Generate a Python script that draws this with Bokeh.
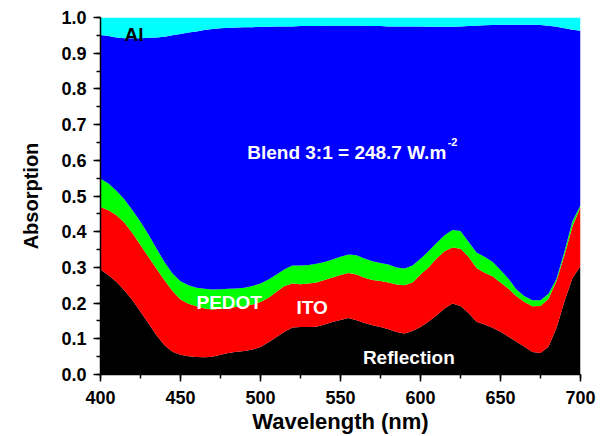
from bokeh.plotting import figure
from bokeh.models import Range1d, Label, SingleIntervalTicker, NumeralTickFormatter
from bokeh.embed import file_html
from bokeh.resources import INLINE

wavelength = [400, 405, 410, 415, 420, 425, 430, 435, 440, 445,
              450, 455, 460, 465, 470, 475, 480, 485, 490, 495,
              500, 505, 510, 515, 520, 525, 530, 535, 540, 545,
              550, 555, 560, 565, 570, 575, 580, 585, 590, 595,
              600, 605, 610, 615, 620, 625, 630, 635, 640, 645,
              650, 655, 660, 665, 670, 675, 680, 685, 690, 695, 700]

# cumulative top of each stacked layer
reflection = [.294, .278, .259, .235, .208, .176, .143, .110, .082, .064,
              .055, .051, .049, .048, .050, .055, .060, .064, .066, .070,
              .077, .090, .105, .120, .132, .133, .133, .134, .140, .147,
              .153, .158, .152, .144, .138, .133, .127, .119, .115, .122,
              .133, .148, .165, .185, .199, .192, .172, .148, .140, .131,
              .120, .106, .092, .078, .063, .060, .078, .130, .205, .270, .303]

ito_top = [.469, .460, .446, .425, .396, .363, .329, .296, .264, .234,
           .210, .198, .191, .185, .182, .184, .187, .189, .191, .196,
           .203, .215, .232, .248, .255, .253, .255, .258, .265, .272,
           .279, .284, .280, .271, .265, .262, .258, .252, .250, .258,
           .280, .300, .325, .345, .356, .352, .330, .298, .285, .275,
           .258, .240, .219, .203, .191, .192, .212, .262, .335, .415, .469]

pedot_top = [.548, .535, .515, .490, .460, .428, .392, .353, .315, .283,
             .261, .250, .243, .240, .238, .239, .240, .241, .243, .248,
             .255, .266, .280, .295, .305, .305, .307, .310, .315, .322,
             .330, .336, .334, .325, .317, .312, .308, .300, .297, .305,
             .324, .345, .368, .390, .405, .402, .372, .342, .330, .316,
             .293, .268, .238, .219, .208, .208, .226, .268, .345, .430, .474]

blend_top = [.951, .948, .944, .942, .942, .942, .943, .944, .946, .950,
             .954, .958, .961, .965, .968, .970, .971, .972, .973, .973,
             .974, .974, .975, .975, .975, .976, .976, .976, .977, .977,
             .977, .977, .977, .977, .976, .976, .975, .975, .975, .975,
             .975, .974, .974, .974, .974, .975, .976, .977, .978, .979,
             .980, .980, .980, .980, .980, .979, .977, .974, .970, .966, .963]

total_top = [1.0] * len(wavelength)
baseline = [0.0] * len(wavelength)

layer_colors = ["#000000", "#FF0000", "#00FF00", "#0000FF", "#00FFFF"]
x_ticks_interval = 50
y_ticks_interval = 0.1

FONT = "Liberation Sans"

p = figure(width=605, height=436, output_backend="svg", toolbar_location=None,
           x_range=Range1d(400, 700), y_range=Range1d(0, 1.0),
           min_border_left=100, min_border_right=25, min_border_top=17,
           min_border_bottom=62)

bounds = [baseline, reflection, ito_top, pedot_top, blend_top, total_top]
for i, col in enumerate(layer_colors):
    p.varea(x=wavelength, y1=bounds[i], y2=bounds[i + 1], fill_color=col)

p.xgrid.visible = False
p.ygrid.visible = False
p.outline_line_color = None
p.background_fill_color = "white"
p.border_fill_color = "white"

p.xaxis.ticker = SingleIntervalTicker(interval=x_ticks_interval, num_minor_ticks=2)
p.yaxis.ticker = SingleIntervalTicker(interval=y_ticks_interval, num_minor_ticks=2)
p.yaxis.formatter = NumeralTickFormatter(format="0.0")
p.xaxis.formatter = NumeralTickFormatter(format="0")

for ax in (p.xaxis[0], p.yaxis[0]):
    ax.axis_line_width = 1.5
    ax.axis_line_color = "black"
    ax.major_tick_line_color = "black"
    ax.major_tick_line_width = 1.5
    ax.minor_tick_line_color = "black"
    ax.minor_tick_line_width = 1.5
    ax.major_tick_out = 7
    ax.major_tick_in = 0
    ax.minor_tick_out = 4
    ax.minor_tick_in = 0
    ax.major_label_text_font = FONT
    ax.major_label_text_font_style = "bold"
    ax.major_label_text_font_size = "18px"
    ax.major_label_text_color = "black"
    ax.axis_label_text_font = FONT
    ax.axis_label_text_font_style = "bold"
    ax.axis_label_text_color = "black"

p.xaxis.major_label_standoff = 9
p.yaxis.major_label_standoff = 7
p.xaxis.axis_label = "Wavelength (nm)"
p.xaxis.axis_label_text_font_size = "22px"
p.xaxis.axis_label_standoff = 2
p.yaxis.axis_label = "Absorption"
p.yaxis.axis_label_text_font_size = "20px"
p.yaxis.axis_label_standoff = 16

def add_label(txt, x, y, color, size):
    p.add_layout(Label(x=x, y=y, text=txt, text_color=color, text_font=FONT,
                       text_font_style="bold", text_font_size=size,
                       text_baseline="alphabetic", text_align="left"))

add_label("Al", 415, 0.951, "black", "19px")
add_label("Blend 3:1 = 248.7 W.m", 491.7, 0.621, "white", "19px")
add_label("-2", 617, 0.651, "white", "11px")
add_label("PEDOT", 460, 0.203, "white", "19px")
add_label("ITO", 522.5, 0.187, "white", "19px")
add_label("Reflection", 564, 0.048, "white", "19px")

open("out.html", "w").write(file_html(p, INLINE))
